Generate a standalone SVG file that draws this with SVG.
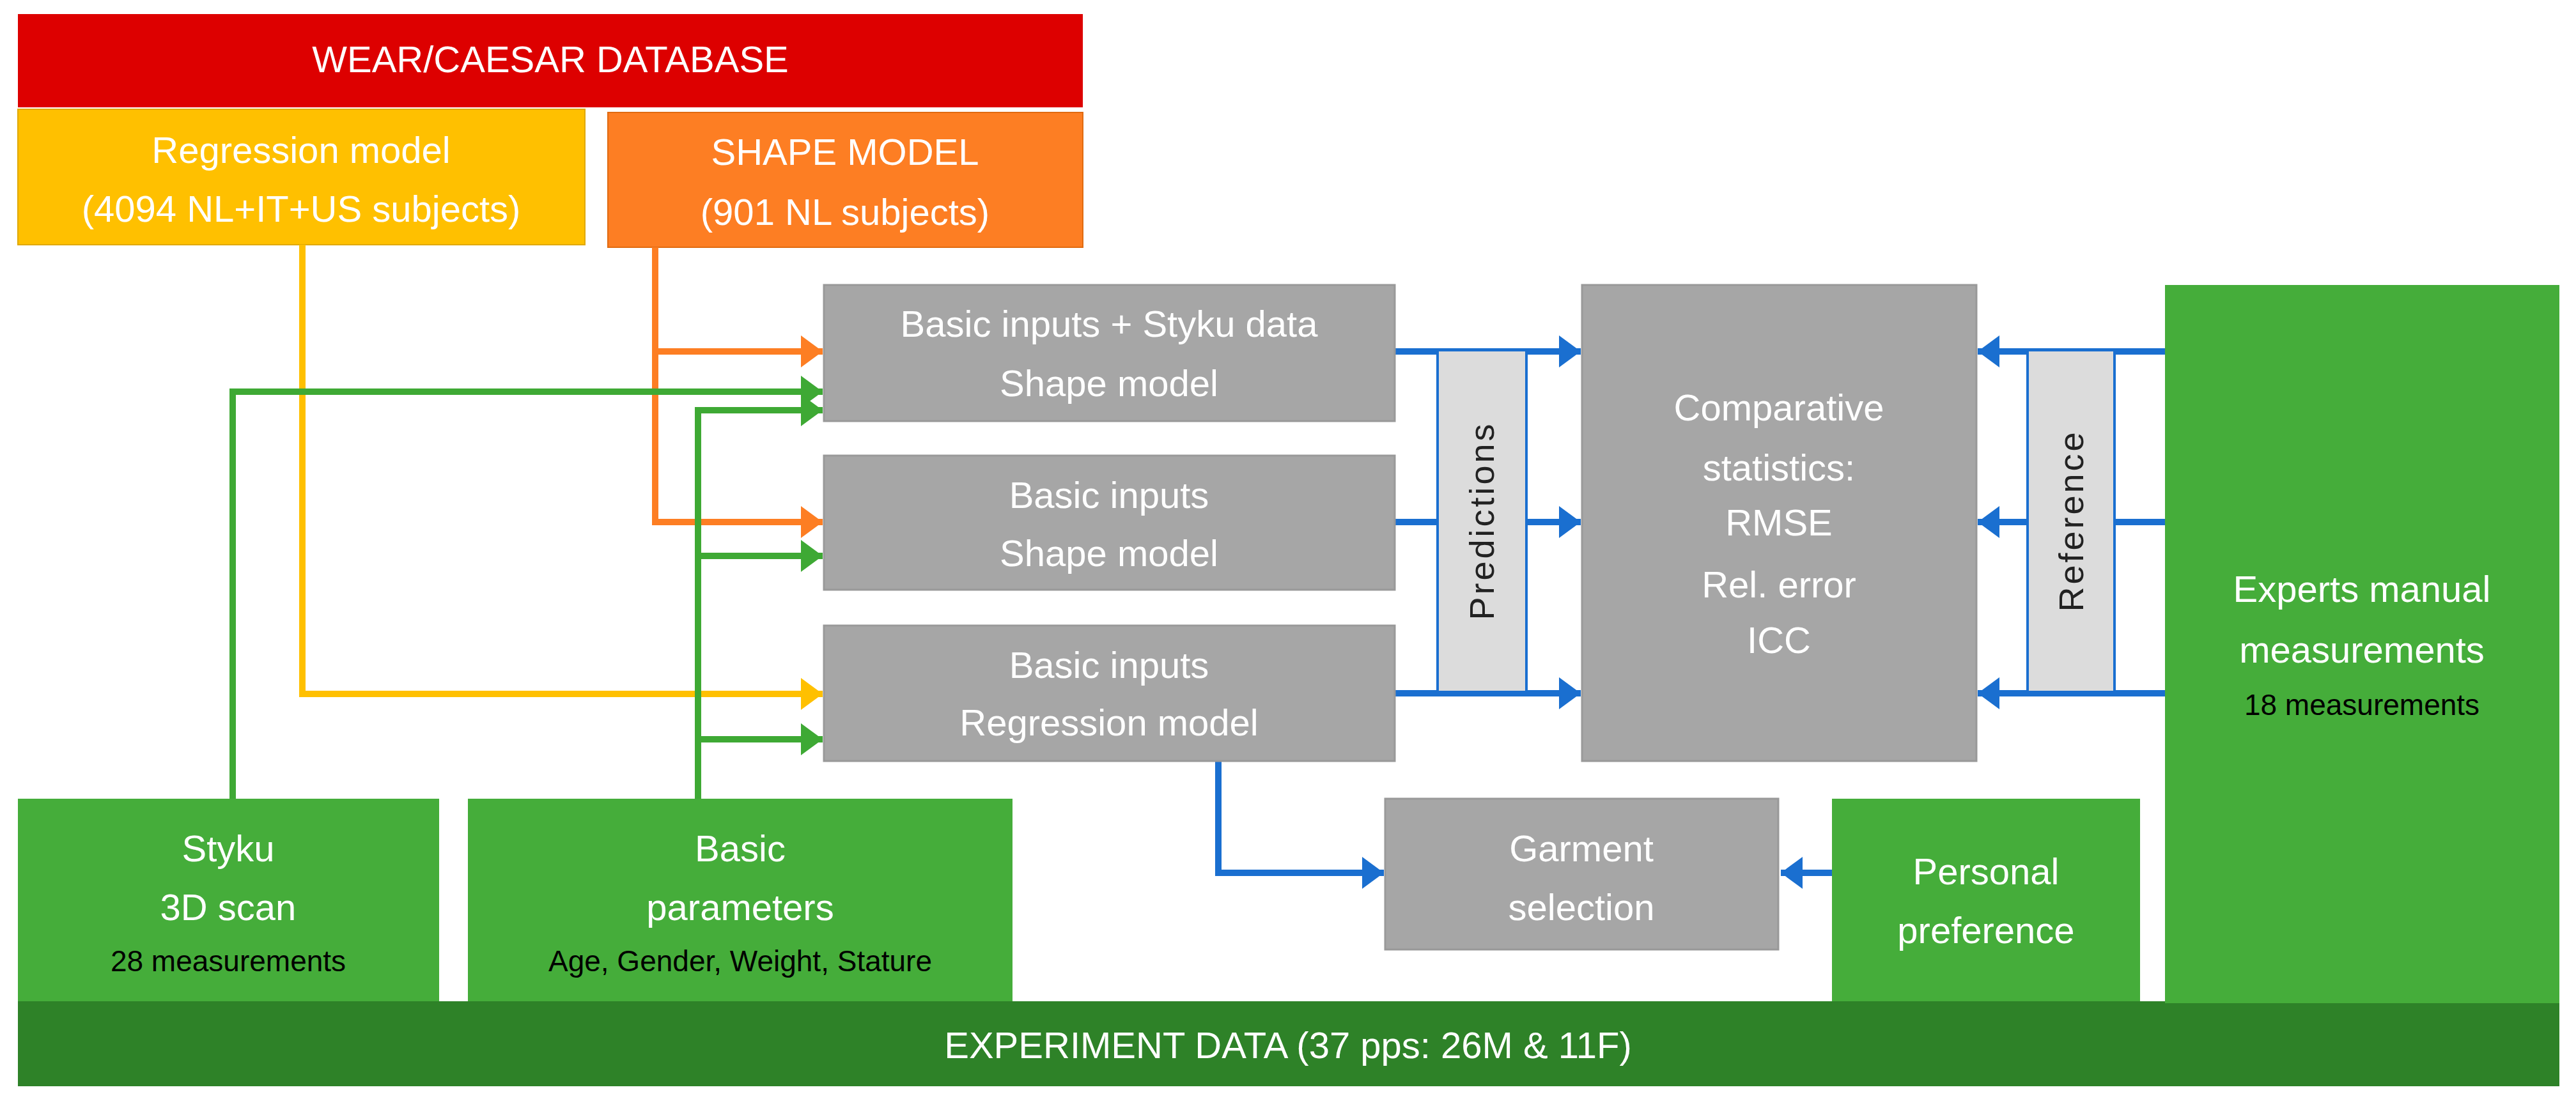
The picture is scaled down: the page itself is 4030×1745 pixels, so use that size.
<svg xmlns="http://www.w3.org/2000/svg" width="4030" height="1745" viewBox="0 0 4030 1745">
<style>
text{font-family:"Liberation Sans",Arial,sans-serif;text-anchor:middle}
.w{fill:#fff;font-size:58px}
.b{fill:#000;font-size:46px}
.r{fill:#222;font-size:54px;letter-spacing:4px}
.gray{fill:#a6a6a6;stroke:#999;stroke-width:3}
.green{fill:#45ad3a}
.bar{fill:#dcdcdc;stroke:#1a6fd0;stroke-width:4}
.c{fill:none;stroke-width:10}
</style>
<defs>
<marker id="aO" markerUnits="userSpaceOnUse" markerWidth="34" markerHeight="50" refX="34" refY="25" orient="auto"><path d="M0,0L34,25L0,50z" fill="#fd7e23"/></marker>
<marker id="aY" markerUnits="userSpaceOnUse" markerWidth="34" markerHeight="50" refX="34" refY="25" orient="auto"><path d="M0,0L34,25L0,50z" fill="#ffc000"/></marker>
<marker id="aG" markerUnits="userSpaceOnUse" markerWidth="34" markerHeight="50" refX="34" refY="25" orient="auto"><path d="M0,0L34,25L0,50z" fill="#3ea934"/></marker>
<marker id="aB" markerUnits="userSpaceOnUse" markerWidth="34" markerHeight="50" refX="34" refY="25" orient="auto"><path d="M0,0L34,25L0,50z" fill="#1a6fd0"/></marker>
</defs>
<rect width="4030" height="1745" fill="#fff"/>
<g id="db"><rect x="28" y="22" width="1666" height="146" fill="#dd0000"/><text class="w" x="861" y="113">WEAR/CAESAR DATABASE</text></g>
<g id="regression"><rect x="28" y="171" width="887" height="212" fill="#ffc000" stroke="#e0a800" stroke-width="2"/><text class="w" x="471" y="255">Regression model</text><text class="w" x="471" y="347">(4094 NL+IT+US subjects)</text></g>
<g id="shape"><rect x="951" y="176" width="743" height="211" fill="#fd7e23" stroke="#e06a10" stroke-width="2"/><text class="w" x="1322" y="258">SHAPE MODEL</text><text class="w" x="1322" y="352">(901 NL subjects)</text></g>
<g id="connectors">
<path class="c" stroke="#fd7e23" marker-end="url(#aO)" d="M1025,387V550H1287"/>
<path class="c" stroke="#fd7e23" marker-end="url(#aO)" d="M1025,545V817H1287"/>
<path class="c" stroke="#ffc000" marker-end="url(#aY)" d="M473,383V1086H1287"/>
<path class="c" stroke="#3ea934" marker-end="url(#aG)" d="M364,1250V613H1287"/>
<path class="c" stroke="#3ea934" marker-end="url(#aG)" d="M1092,1250V642H1287"/>
<path class="c" stroke="#3ea934" marker-end="url(#aG)" d="M1092,870H1287"/>
<path class="c" stroke="#3ea934" marker-end="url(#aG)" d="M1092,1157H1287"/>
<path class="c" stroke="#1a6fd0" marker-end="url(#aB)" d="M2182,550H2473"/>
<path class="c" stroke="#1a6fd0" marker-end="url(#aB)" d="M2182,817H2473"/>
<path class="c" stroke="#1a6fd0" marker-end="url(#aB)" d="M2182,1085H2473"/>
<path class="c" stroke="#1a6fd0" marker-end="url(#aB)" d="M3387,550H3094"/>
<path class="c" stroke="#1a6fd0" marker-end="url(#aB)" d="M3387,817H3094"/>
<path class="c" stroke="#1a6fd0" marker-end="url(#aB)" d="M3387,1085H3094"/>
<path class="c" stroke="#1a6fd0" marker-end="url(#aB)" d="M1906,1191V1366H2165"/>
<path class="c" stroke="#1a6fd0" marker-end="url(#aB)" d="M2866,1366H2786"/>
</g>
<g id="b1"><rect class="gray" x="1289" y="446" width="893" height="213"/><text class="w" x="1735" y="527">Basic inputs + Styku  data</text><text class="w" x="1735" y="620">Shape model</text></g>
<g id="b2"><rect class="gray" x="1289" y="713" width="893" height="210"/><text class="w" x="1735" y="795">Basic inputs</text><text class="w" x="1735" y="886">Shape model</text></g>
<g id="b3"><rect class="gray" x="1289" y="979" width="893" height="212"/><text class="w" x="1735" y="1061">Basic inputs</text><text class="w" x="1735" y="1151">Regression model</text></g>
<g id="predictions"><rect class="bar" x="2249" y="548" width="139" height="535"/><text class="r" transform="translate(2337,815) rotate(-90)">Predictions</text></g>
<g id="comparative"><rect class="gray" x="2475" y="446" width="617" height="745"/><text class="w" x="2783" y="658">Comparative</text><text class="w" x="2783" y="752">statistics:</text><text class="w" x="2783" y="838">RMSE</text><text class="w" x="2783" y="935">Rel. error</text><text class="w" x="2783" y="1022">ICC</text></g>
<g id="reference"><rect class="bar" x="3172" y="548" width="136" height="535"/><text class="r" transform="translate(3259,815) rotate(-90)">Reference</text></g>
<g id="experiment"><rect x="28" y="1567" width="3976" height="133" fill="#2e8228"/><text class="w" x="2015" y="1656">EXPERIMENT DATA (37 pps: 26M &amp; 11F)</text></g>
<g id="experts"><rect class="green" x="3387" y="446" width="617" height="1124"/><text class="w" x="3695" y="942">Experts manual</text><text class="w" x="3695" y="1037">measurements</text><text class="b" x="3695" y="1119">18 measurements</text></g>
<g id="styku"><rect class="green" x="28" y="1250" width="659" height="317"/><text class="w" x="357" y="1348">Styku</text><text class="w" x="357" y="1440">3D scan</text><text class="b" x="357" y="1520">28 measurements</text></g>
<g id="basic"><rect class="green" x="732" y="1250" width="852" height="317"/><text class="w" x="1158" y="1348">Basic</text><text class="w" x="1158" y="1440">parameters</text><text class="b" x="1158" y="1520">Age,  Gender,  Weight, Stature</text></g>
<g id="garment"><rect class="gray" x="2167" y="1250" width="615" height="236"/><text class="w" x="2474" y="1348">Garment</text><text class="w" x="2474" y="1440">selection</text></g>
<g id="personal"><rect class="green" x="2866" y="1250" width="482" height="317"/><text class="w" x="3107" y="1384">Personal</text><text class="w" x="3107" y="1476">preference</text></g>
</svg>
